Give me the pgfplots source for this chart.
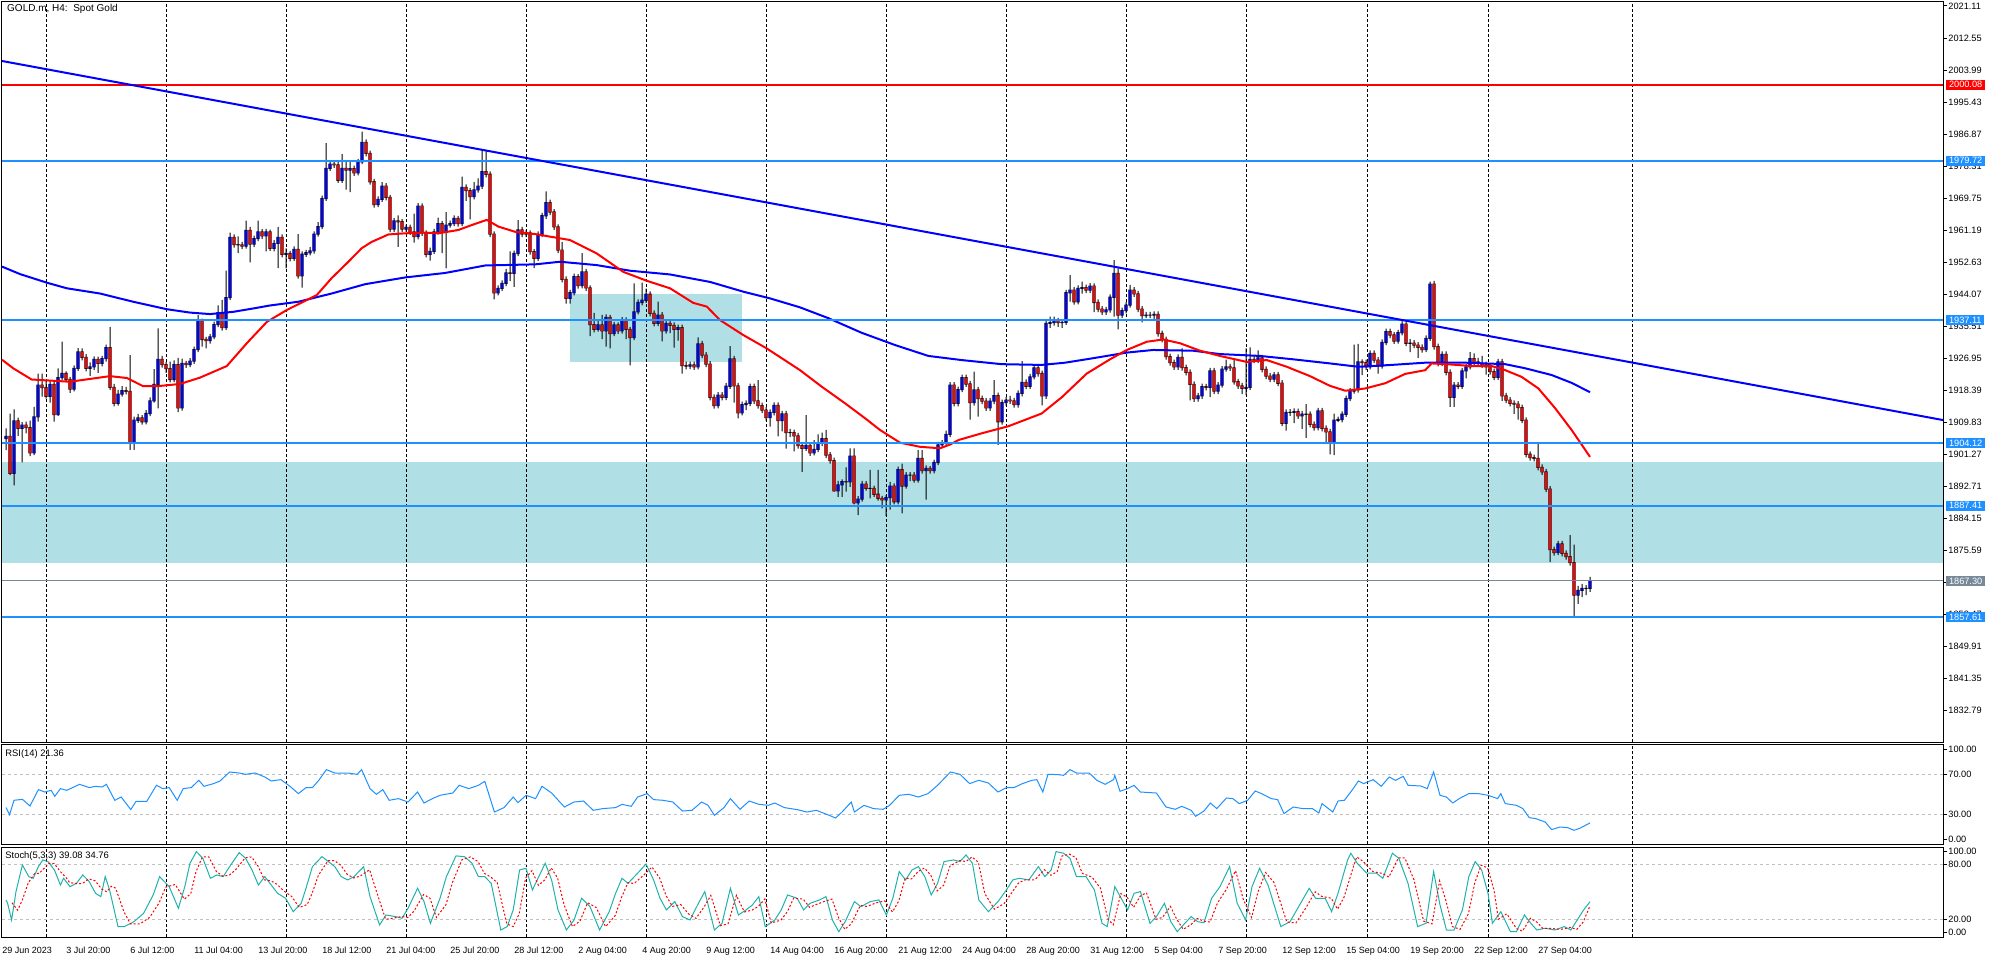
\documentclass[border=0pt]{standalone}
\usepackage{fontspec}
\setmainfont{Liberation Sans}
\usepackage{pgfplots}
\usepackage{pgfplotstable}
\pgfplotsset{compat=1.18}
\definecolor{dodger}{HTML}{1E90FF}
\definecolor{powder}{HTML}{B0E0E6}
\definecolor{slate}{HTML}{778899}
\definecolor{seagreen}{HTML}{20B2AA}
\definecolor{mtblue}{HTML}{0000FF}
\definecolor{mtred}{HTML}{FF0000}
\definecolor{silv}{HTML}{C0C0C0}
\newcommand{\mtf}{\fontsize{4.6pt}{5.5pt}\selectfont}
\newcommand{\mtl}{\fontsize{4.7pt}{5.5pt}\selectfont}
\newcommand{\mtx}{\fontsize{4.5pt}{5.5pt}\selectfont}
\tikzset{vgrid/.style={black, line width=0.5pt, dash pattern=on 1.5pt off 1pt}}

\pgfplotstableread{
o h l c
1905.4 1908.1 1902.3 1906.0
1906.0 1912.1 1895.6 1896.1
1896.1 1913.2 1892.9 1910.1
1910.1 1911.0 1906.1 1908.1
1908.1 1909.8 1899.0 1909.0
1909.0 1909.9 1906.8 1908.3
1908.3 1910.2 1900.7 1901.6
1901.6 1913.9 1901.0 1911.2
1911.2 1922.8 1909.9 1919.7
1919.7 1922.8 1916.6 1919.0
1919.0 1921.0 1916.1 1916.7
1916.7 1921.0 1915.0 1919.9
1919.9 1921.0 1909.9 1911.8
1911.8 1924.2 1911.5 1921.7
1921.7 1931.3 1921.0 1922.8
1922.8 1923.4 1920.6 1921.2
1921.2 1921.9 1917.6 1918.6
1918.6 1925.0 1918.0 1924.2
1924.2 1929.6 1923.5 1928.6
1928.6 1929.5 1926.3 1927.1
1927.1 1928.0 1923.4 1924.2
1924.2 1925.8 1922.2 1924.6
1924.6 1927.4 1923.8 1926.6
1926.6 1927.3 1923.0 1925.5
1925.5 1927.5 1924.7 1926.8
1926.8 1930.5 1926.0 1929.7
1929.7 1935.3 1918.4 1919.1
1919.1 1920.0 1914.0 1914.8
1914.8 1918.4 1914.2 1917.3
1917.3 1919.4 1916.6 1918.2
1918.2 1919.2 1917.2 1918.0
1918.0 1927.7 1902.4 1904.3
1904.3 1911.3 1902.4 1910.3
1910.3 1912.0 1909.6 1910.9
1910.9 1911.7 1909.1 1909.9
1909.9 1913.0 1909.2 1912.1
1912.1 1916.4 1911.4 1915.5
1915.5 1924.0 1915.0 1919.9
1919.9 1934.9 1913.5 1926.6
1926.6 1927.5 1924.4 1925.2
1925.2 1925.9 1923.0 1924.1
1924.1 1926.0 1920.4 1921.2
1921.2 1926.3 1920.5 1925.2
1925.2 1927.0 1912.5 1913.6
1913.6 1926.8 1912.9 1925.5
1925.5 1926.2 1924.3 1925.2
1925.2 1926.9 1924.5 1926.1
1926.1 1930.0 1925.4 1929.2
1929.2 1938.4 1928.5 1936.9
1936.9 1937.5 1930.0 1931.9
1931.9 1932.6 1929.5 1931.6
1931.6 1933.4 1930.8 1932.6
1932.6 1936.7 1932.0 1935.9
1935.9 1941.0 1935.2 1939.1
1939.1 1942.5 1934.3 1935.1
1935.1 1950.3 1934.4 1943.1
1943.1 1960.5 1942.5 1959.2
1959.2 1960.0 1956.5 1957.3
1957.3 1959.5 1955.0 1957.2
1957.2 1958.0 1956.1 1956.9
1956.9 1963.7 1956.2 1961.1
1961.1 1962.0 1952.5 1957.4
1957.4 1959.7 1956.6 1958.9
1958.9 1963.7 1958.2 1960.7
1960.7 1961.4 1958.8 1959.6
1959.6 1961.5 1955.5 1960.7
1960.7 1961.3 1955.6 1956.3
1956.3 1958.5 1955.5 1957.6
1957.6 1962.0 1951.0 1959.2
1959.2 1960.0 1953.9 1954.7
1954.7 1956.3 1950.9 1954.9
1954.9 1955.6 1952.8 1953.6
1953.6 1956.8 1952.9 1956.0
1956.0 1960.1 1948.2 1948.9
1948.9 1955.5 1945.8 1954.7
1954.7 1955.9 1954.0 1955.1
1955.1 1956.7 1954.4 1955.6
1955.6 1960.8 1954.9 1960.1
1960.1 1963.3 1959.4 1962.1
1962.1 1970.4 1961.4 1969.6
1969.6 1984.4 1969.0 1977.7
1977.7 1979.6 1977.0 1978.8
1978.8 1979.8 1977.8 1978.6
1978.6 1979.5 1973.8 1974.5
1974.5 1981.5 1973.8 1977.7
1977.7 1979.8 1972.0 1977.2
1977.2 1979.8 1971.3 1977.6
1977.6 1978.4 1975.7 1976.5
1976.5 1980.2 1975.8 1979.4
1979.4 1987.5 1978.8 1984.6
1984.6 1985.4 1980.9 1981.7
1981.7 1982.4 1973.3 1974.1
1974.1 1974.9 1967.2 1968.0
1968.0 1970.2 1967.3 1969.4
1969.4 1974.0 1968.7 1972.9
1972.9 1973.7 1969.1 1969.9
1969.9 1970.6 1960.6 1961.4
1961.4 1964.4 1960.7 1963.6
1963.6 1965.1 1956.7 1963.4
1963.4 1964.1 1960.6 1961.4
1961.4 1962.6 1960.7 1961.9
1961.9 1962.6 1959.9 1960.7
1960.7 1965.6 1957.8 1959.4
1959.4 1968.4 1958.7 1967.6
1967.6 1968.3 1959.6 1960.4
1960.4 1961.1 1953.9 1954.7
1954.7 1956.5 1953.0 1955.5
1955.5 1961.5 1954.8 1960.7
1960.7 1964.5 1960.0 1962.9
1962.9 1963.6 1955.0 1960.7
1960.7 1966.0 1950.9 1962.5
1962.5 1963.7 1961.8 1962.9
1962.9 1965.1 1962.2 1964.3
1964.3 1965.0 1962.1 1962.9
1962.9 1975.5 1962.2 1972.6
1972.6 1973.4 1969.0 1971.7
1971.7 1972.4 1964.0 1970.1
1970.1 1974.0 1969.4 1971.9
1971.9 1975.0 1971.2 1972.9
1972.9 1982.6 1972.2 1976.8
1976.8 1982.6 1975.3 1976.1
1976.1 1976.9 1959.3 1960.1
1960.1 1960.8 1942.6 1944.4
1944.4 1946.4 1943.7 1945.6
1945.6 1947.7 1944.9 1946.9
1946.9 1950.8 1946.2 1949.7
1949.7 1955.5 1947.5 1949.6
1949.6 1955.7 1946.0 1954.9
1954.9 1963.8 1954.2 1961.2
1961.2 1962.0 1959.3 1960.1
1960.1 1961.2 1959.3 1960.4
1960.4 1961.1 1954.6 1955.4
1955.4 1956.1 1951.0 1953.6
1953.6 1960.8 1952.9 1960.0
1960.0 1965.8 1959.3 1965.0
1965.0 1971.5 1964.2 1968.5
1968.5 1969.3 1965.2 1966.0
1966.0 1966.8 1961.2 1962.0
1962.0 1962.7 1955.0 1955.8
1955.8 1958.0 1947.2 1948.0
1948.0 1948.8 1941.5 1942.9
1942.9 1945.2 1941.5 1944.4
1944.4 1949.5 1943.7 1948.7
1948.7 1949.4 1945.5 1946.3
1946.3 1955.0 1945.6 1950.0
1950.0 1950.8 1944.9 1945.7
1945.7 1946.4 1932.8 1935.9
1935.9 1939.0 1933.8 1934.6
1934.6 1937.3 1934.0 1935.8
1935.8 1938.5 1932.0 1934.2
1934.2 1938.6 1930.0 1937.8
1937.8 1938.5 1929.5 1933.5
1933.5 1936.6 1932.8 1935.8
1935.8 1936.5 1933.4 1934.2
1934.2 1937.9 1933.5 1937.1
1937.1 1937.8 1932.0 1934.6
1934.6 1935.3 1925.0 1932.4
1932.4 1946.9 1931.7 1939.3
1939.3 1942.6 1938.6 1941.8
1941.8 1947.1 1941.0 1942.4
1942.4 1945.5 1941.7 1944.0
1944.0 1944.8 1938.1 1938.9
1938.9 1939.7 1935.4 1936.2
1936.2 1942.0 1935.5 1938.4
1938.4 1939.2 1931.4 1934.2
1934.2 1937.0 1933.5 1936.2
1936.2 1937.0 1933.6 1935.7
1935.7 1936.5 1929.7 1934.6
1934.6 1935.9 1931.6 1935.1
1935.1 1935.9 1922.8 1924.9
1924.9 1926.0 1923.9 1924.8
1924.8 1926.0 1924.0 1925.1
1925.1 1926.0 1923.8 1924.6
1924.6 1932.5 1923.9 1930.7
1930.7 1931.5 1926.9 1927.7
1927.7 1928.5 1924.5 1925.3
1925.3 1926.1 1915.6 1916.4
1916.4 1917.2 1913.4 1914.2
1914.2 1917.8 1913.5 1917.0
1917.0 1917.8 1915.6 1916.4
1916.4 1920.3 1915.7 1919.4
1919.4 1930.1 1918.7 1926.7
1926.7 1927.5 1915.0 1919.5
1919.5 1920.3 1910.8 1912.3
1912.3 1915.3 1911.6 1914.5
1914.5 1915.6 1913.0 1914.8
1914.8 1920.1 1914.1 1919.3
1919.3 1920.1 1914.7 1915.5
1915.5 1921.0 1913.4 1914.2
1914.2 1915.0 1912.2 1913.0
1913.0 1913.8 1910.2 1911.0
1911.0 1913.2 1908.6 1912.4
1912.4 1915.1 1911.6 1914.3
1914.3 1915.1 1906.0 1910.2
1910.2 1912.8 1907.3 1912.0
1912.0 1912.8 1902.7 1907.0
1907.0 1908.0 1905.8 1907.0
1907.0 1907.8 1902.0 1906.1
1906.1 1906.9 1902.7 1903.5
1903.5 1904.3 1896.5 1902.8
1902.8 1911.7 1902.1 1903.6
1903.6 1904.4 1900.8 1901.6
1901.6 1905.0 1900.9 1902.5
1902.5 1906.5 1901.8 1904.1
1904.1 1907.0 1903.4 1905.4
1905.4 1907.7 1900.2 1901.0
1901.0 1901.8 1898.7 1899.5
1899.5 1900.3 1891.2 1891.4
1891.4 1894.1 1889.8 1893.0
1893.0 1894.5 1889.8 1893.9
1893.9 1897.7 1891.2 1893.8
1893.8 1902.8 1892.5 1900.7
1900.7 1902.8 1887.8 1888.2
1888.2 1890.0 1884.9 1889.2
1889.2 1894.1 1888.5 1893.2
1893.2 1894.0 1891.5 1892.1
1892.1 1897.0 1889.4 1892.1
1892.1 1892.8 1889.8 1890.5
1890.5 1897.0 1888.8 1889.4
1889.4 1890.1 1886.7 1889.0
1889.0 1890.3 1884.7 1889.6
1889.6 1893.8 1886.4 1892.7
1892.7 1893.4 1887.8 1888.5
1888.5 1897.9 1887.8 1897.1
1897.1 1898.7 1885.4 1892.7
1892.7 1896.4 1892.0 1895.6
1895.6 1896.4 1894.0 1895.6
1895.6 1896.4 1893.6 1894.3
1894.3 1902.3 1893.6 1900.1
1900.1 1902.3 1896.0 1896.8
1896.8 1898.2 1889.1 1897.4
1897.4 1898.0 1896.0 1896.8
1896.8 1899.8 1896.1 1899.0
1899.0 1904.5 1898.3 1903.7
1903.7 1905.0 1903.0 1904.1
1904.1 1907.5 1903.4 1906.5
1906.5 1920.5 1905.8 1919.7
1919.7 1920.5 1914.0 1914.8
1914.8 1919.3 1914.0 1918.5
1918.5 1922.5 1917.8 1921.7
1921.7 1922.5 1919.2 1920.0
1920.0 1920.8 1910.5 1915.0
1915.0 1923.3 1914.2 1918.4
1918.4 1919.2 1911.3 1916.1
1916.1 1916.9 1914.6 1915.4
1915.4 1916.2 1912.8 1913.6
1913.6 1916.2 1912.8 1915.4
1915.4 1921.0 1914.6 1916.9
1916.9 1917.7 1903.7 1909.9
1909.9 1915.8 1909.1 1915.0
1915.0 1916.5 1914.2 1915.7
1915.7 1916.8 1914.7 1915.5
1915.5 1916.3 1913.7 1914.5
1914.5 1918.3 1913.7 1917.5
1917.5 1926.1 1916.7 1920.4
1920.4 1921.2 1918.6 1919.4
1919.4 1922.7 1918.7 1921.9
1921.9 1925.1 1921.2 1924.3
1924.3 1925.1 1922.0 1922.8
1922.8 1923.6 1914.3 1916.8
1916.8 1937.0 1916.0 1936.2
1936.2 1938.0 1935.0 1936.4
1936.4 1938.0 1935.6 1936.9
1936.9 1937.7 1935.3 1936.4
1936.4 1937.3 1935.0 1936.5
1936.5 1945.2 1935.8 1944.4
1944.4 1949.1 1942.0 1945.1
1945.1 1945.9 1941.2 1942.0
1942.0 1946.4 1941.3 1945.6
1945.6 1947.4 1944.2 1945.8
1945.8 1946.6 1944.3 1945.1
1945.1 1947.0 1944.4 1946.2
1946.2 1946.9 1939.2 1941.8
1941.8 1942.6 1939.2 1940.0
1940.0 1940.8 1938.5 1939.3
1939.3 1940.6 1938.5 1939.8
1939.8 1944.0 1939.1 1943.2
1943.2 1953.1 1938.0 1949.6
1949.6 1950.9 1934.6 1938.4
1938.4 1940.4 1937.7 1939.6
1939.6 1941.9 1938.9 1941.1
1941.1 1946.5 1940.4 1945.1
1945.1 1945.9 1943.3 1944.1
1944.1 1944.9 1939.2 1940.0
1940.0 1940.8 1936.5 1938.3
1938.3 1939.3 1937.6 1938.4
1938.4 1939.3 1937.6 1938.4
1938.4 1939.4 1937.2 1938.6
1938.6 1939.4 1932.7 1933.5
1933.5 1934.3 1931.1 1931.9
1931.9 1932.7 1926.5 1927.3
1927.3 1928.1 1924.9 1925.7
1925.7 1926.5 1923.8 1924.6
1924.6 1927.9 1923.8 1927.1
1927.1 1929.5 1923.6 1924.4
1924.4 1925.2 1922.3 1923.1
1923.1 1923.9 1915.6 1919.9
1919.9 1920.7 1915.2 1916.1
1916.1 1917.6 1915.3 1916.8
1916.8 1920.1 1916.0 1919.3
1919.3 1920.0 1918.3 1919.1
1919.1 1924.3 1916.5 1923.5
1923.5 1924.3 1917.3 1918.1
1918.1 1920.5 1917.3 1919.7
1919.7 1924.8 1919.0 1924.0
1924.0 1926.5 1923.3 1924.6
1924.6 1925.4 1923.5 1924.3
1924.3 1926.5 1919.8 1920.6
1920.6 1921.4 1918.7 1919.5
1919.5 1920.3 1917.3 1918.8
1918.8 1929.5 1917.0 1919.1
1919.1 1929.8 1918.4 1926.6
1926.6 1927.6 1925.6 1926.4
1926.4 1929.0 1925.6 1927.0
1927.0 1927.8 1923.1 1923.9
1923.9 1924.7 1921.3 1922.1
1922.1 1922.9 1920.5 1921.3
1921.3 1923.2 1920.5 1922.4
1922.4 1923.2 1919.4 1920.2
1920.2 1921.0 1908.7 1909.5
1909.5 1913.2 1907.5 1912.4
1912.4 1913.3 1911.5 1912.4
1912.4 1913.5 1909.5 1912.6
1912.6 1913.4 1910.7 1911.5
1911.5 1912.8 1908.0 1911.9
1911.9 1914.6 1905.6 1911.9
1911.9 1912.7 1908.4 1909.2
1909.2 1910.0 1907.5 1908.3
1908.3 1913.6 1907.6 1912.8
1912.8 1913.6 1907.3 1908.1
1908.1 1908.9 1904.5 1907.2
1907.2 1908.0 1901.2 1904.5
1904.5 1912.1 1901.0 1910.3
1910.3 1911.3 1909.8 1910.5
1910.5 1912.7 1909.7 1911.9
1911.9 1916.9 1911.2 1916.1
1916.1 1918.9 1915.4 1918.1
1918.1 1930.5 1917.4 1918.4
1918.4 1930.7 1917.7 1925.9
1925.9 1926.6 1922.4 1925.7
1925.7 1926.5 1923.8 1924.6
1924.6 1929.0 1923.9 1928.2
1928.2 1929.0 1925.6 1926.4
1926.4 1927.2 1922.8 1924.8
1924.8 1931.9 1924.1 1931.1
1931.1 1934.8 1930.4 1934.0
1934.0 1934.8 1932.3 1933.1
1933.1 1933.9 1930.7 1931.5
1931.5 1934.5 1930.8 1933.7
1933.7 1937.0 1933.0 1936.0
1936.0 1936.8 1930.1 1930.9
1930.9 1932.0 1928.5 1930.9
1930.9 1931.7 1929.6 1930.4
1930.4 1931.2 1927.0 1929.8
1929.8 1930.6 1928.4 1929.2
1929.2 1933.0 1928.5 1932.2
1932.2 1947.4 1931.5 1946.7
1946.7 1947.6 1929.2 1930.0
1930.0 1930.8 1924.7 1925.5
1925.5 1928.7 1924.8 1927.9
1927.9 1928.7 1922.3 1923.1
1923.1 1923.9 1913.9 1916.4
1916.4 1920.5 1913.9 1919.7
1919.7 1920.5 1918.6 1919.4
1919.4 1924.3 1918.7 1923.5
1923.5 1925.4 1921.5 1924.6
1924.6 1928.5 1923.9 1926.8
1926.8 1928.2 1925.1 1925.9
1925.9 1927.0 1924.7 1925.5
1925.5 1927.5 1924.3 1925.1
1925.1 1926.0 1922.5 1924.6
1924.6 1925.4 1922.5 1923.3
1923.3 1924.1 1921.0 1921.8
1921.8 1926.7 1921.1 1925.9
1925.9 1926.7 1915.5 1916.8
1916.8 1917.6 1914.9 1915.7
1915.7 1916.5 1914.0 1914.8
1914.8 1915.6 1912.0 1914.6
1914.6 1915.4 1910.5 1913.7
1913.7 1914.5 1909.5 1910.3
1910.3 1911.1 1900.4 1901.2
1901.2 1902.0 1899.5 1900.3
1900.3 1901.1 1899.3 1900.1
1900.1 1904.1 1896.9 1897.7
1897.7 1898.5 1895.7 1896.5
1896.5 1897.3 1891.1 1891.9
1891.9 1892.7 1872.4 1875.7
1875.7 1876.5 1874.1 1874.9
1874.9 1878.0 1874.2 1877.2
1877.2 1878.0 1873.9 1874.7
1874.7 1875.5 1873.0 1873.8
1873.8 1879.6 1871.4 1872.2
1872.2 1877.0 1857.9 1863.5
1863.5 1866.0 1861.2 1864.8
1864.8 1866.5 1863.0 1865.3
1865.3 1866.2 1863.5 1865.3
1865.3 1868.4 1864.4 1867.3
}\candles

\pgfplotstableread{
i v
-1 1926.5
1.8 1924.2
6.4 1921.2
16 1920.6
26 1922.1
30.2 1921.6
34.3 1919.4
37.7 1919.4
43.5 1920.0
48.5 1921.7
55.2 1924.8
60.2 1930.9
65.2 1936.6
70.2 1939.8
77.7 1943.8
81.4 1948.3
85.6 1952.7
88.9 1956.3
91.4 1958.0
95.6 1960.0
99.8 1960.3
104.8 1960.5
108.1 1960.3
113.1 1961.2
116.4 1962.5
120.2 1963.9
123.1 1962.1
127.3 1960.7
132.3 1960.1
141 1958.5
147.7 1954.9
154.3 1950.0
160.2 1947.6
166 1945.6
171.8 1941.7
175.2 1940.7
178.5 1937.1
184.3 1933.1
190.2 1929.5
198.5 1923.7
203.9 1919.3
209.8 1914.8
214.8 1910.8
218.5 1907.7
223.5 1904.3
228.5 1903.2
233.5 1902.8
236 1903.8
238.1 1905.0
243.9 1906.8
250.6 1908.7
258.9 1912.1
264 1916.5
270.2 1922.8
276 1926.6
280.2 1929.1
285.2 1931.3
289.3 1931.9
293.5 1930.9
298.5 1928.9
303.5 1927.5
310.2 1925.9
315.2 1926.4
320.2 1924.6
326 1922.1
331 1919.5
334.8 1918.2
339.8 1918.8
344.8 1920.2
349.8 1922.7
354.8 1923.7
356.4 1925.5
361.4 1925.2
366.4 1924.8
371.4 1924.8
374.8 1923.7
378.9 1921.9
383.1 1918.8
387.3 1913.5
391.4 1907.7
396 1900.5
}\mared

\pgfplotstableread{
i v
-1 1951.4
3.5 1949.4
10.2 1947.1
15.2 1945.6
23.5 1944.2
31.8 1942.0
40.2 1940.0
46 1939.1
51 1938.7
56.8 1939.3
61.8 1940.2
66 1941.0
73.1 1942.0
81.4 1944.2
89.8 1946.7
99.8 1948.5
109.8 1949.7
119.8 1951.7
132.3 1952.0
138.5 1952.7
147.7 1951.8
156 1950.3
166 1949.3
176 1947.3
184.3 1944.7
191 1942.9
198.5 1940.5
205.6 1937.6
213.9 1933.7
222.3 1930.4
230.6 1927.5
238.9 1926.4
248.9 1925.3
258.9 1925.1
264.8 1925.7
271.8 1926.9
280.2 1928.4
286.8 1929.1
296.8 1928.9
303.5 1928.0
313.5 1927.5
321.8 1926.6
331 1925.5
338.1 1924.6
346.4 1925.1
354.8 1925.7
364.8 1925.7
374.8 1925.3
379.8 1924.2
386.4 1922.4
391.4 1920.3
396 1917.8
}\mablue

\pgfplotstableread{
i v
0 36.7
0.9 29.7
2.0 44
4.1 45
6.0 38.3
8.1 54.7
9.7 52.3
11.3 54
12.2 48
13.6 55.7
15.2 54
18.4 60
20.8 56.7
22.4 58
24.0 57.3
25.1 60
27.2 44
28.8 47.3
31.2 34.7
32.5 43
35.2 43
37.6 59
39.2 55.7
40.8 56.7
42.8 44
44.3 55.7
46.3 56.7
48.2 64
49.5 58
51.9 60.7
53.5 63.3
55.9 72.3
58.3 71.3
59.9 70
62.3 71.3
64.7 67.3
66.3 63.3
68.7 64.7
71.0 58
73.1 50.7
75.0 56.7
76.6 56.7
78.2 64
80.1 74.7
82.2 71.3
85.4 71.3
87.8 70
88.9 74.7
91.0 55.7
92.6 50
94.2 54.7
95.8 44
98.1 45.7
100.5 42.3
102.9 52.3
104.5 41.3
106.6 45.7
108.5 49
111.7 51.3
113.3 59
115.7 55.7
118.1 59
119.7 63
122.1 32.3
124.5 36.7
126.8 47.3
128.0 41.7
130.0 49
132.4 45.7
134.0 58
136.4 51.3
139.6 37.3
142.0 42.3
144.4 43.3
146.8 34
149.2 35.7
152.4 36.7
154.0 40
156.3 38
157.9 47.3
160.3 50.7
161.9 44.7
164.3 44
166.7 42.3
169.1 33.3
171.5 34
173.9 42.3
175.5 39
177.1 29
179.5 36.7
181.1 45.7
183.5 35
185.8 43.3
188.2 40
190.6 39
192.2 41.3
194.6 36.7
197.8 34.7
200.2 32.3
202.6 34
205.8 29
207.4 26.3
209.0 32.3
211.3 42.3
212.1 32.3
214.5 39
216.9 35.7
219.3 35
220.9 39
223.3 49
225.7 50
228.1 47.3
230.5 50.7
232.9 59
236.1 72.3
238.5 70
240.9 60.7
243.2 64
245.6 61.3
248.0 52.3
250.1 56.7
252.0 56.7
254.1 60.7
256.5 64
257.7 64.7
259.2 52.3
260.5 70
262.9 69.7
264.4 69
266.0 74.7
267.6 71.3
270.8 71.3
272.7 64
274.8 60
276.9 64.7
277.2 69
278.5 53
280.4 55.7
282.0 59
283.6 52.3
287.6 51.3
290.0 37.3
292.3 35
293.9 38
296.3 34
297.4 28
299.5 33.3
301.1 41.3
302.7 35.7
305.1 46.3
306.7 45.7
308.3 40.7
310.4 44
312.3 53.3
313.9 50.7
316.3 45.7
317.9 44.7
319.5 30.7
321.8 37.3
324.2 35.7
326.6 35.7
328.2 31.3
329.0 40.7
330.6 35.7
331.7 32.3
333.0 43.3
334.6 44
336.5 54
338.1 63.3
339.4 60.7
341.8 64.7
343.8 58
345.8 67.3
347.4 64
349.3 68
350.5 59
353.7 58.3
355.3 55.7
356.9 72.3
358.5 49
360.1 47.3
361.7 41.3
363.3 45.7
365.7 50.7
368.1 50.7
370.5 49
372.9 45.7
373.7 50.7
374.8 40.7
377.6 39
379.2 35.7
380.8 26.7
382.4 25.7
384.8 22.3
386.4 14.7
388.5 17.3
390.4 16.7
392.0 14
393.6 16.3
396.0 21.4
}\rsi

\pgfplotstableread{
i v
0 41.1
0.4 37.4
1.4 19.2
2.5 50.2
4.1 79.2
5.7 66.5
6.8 64.7
8.1 77.4
9.2 84.7
10.5 82.9
12.1 73.8
13.6 57.4
14.4 64.7
16 55.6
17.6 59.2
19.2 68.3
20.8 61.1
22.4 48.3
23.7 44.7
24.8 66.5
25.9 52
28 12
29.6 12
32 17.4
34.4 26.5
36.8 46.5
38.4 66.5
40.8 55.6
43.1 32
44.7 55.6
46 81.1
47.6 93.8
49.2 86.5
51.1 64.7
52.7 68.3
54.3 66.5
55.9 77.4
58.3 92.7
59.9 86.5
61.5 73.8
63.1 57.4
64.7 66.5
66.3 57.4
67.9 48.3
69.9 42.9
71.8 28.3
73.8 37.4
75 53.8
76.6 77.4
79 88.3
80.6 82.9
82.2 77.4
83.8 66.5
85.4 62.9
87 66.5
89.4 77.4
91 44.7
93.4 13.8
95 24.7
97.4 22.9
99 21.1
100.5 32
102.9 53.8
104.5 39.3
106.1 15.6
108.5 42.9
110.1 66.5
112.5 89.1
114.6 88.3
116.5 81.1
118.1 66.5
119.7 66.5
121.3 59.2
123.7 8.3
125.3 12
126.8 30.2
128.4 73.8
130 75.6
131.6 52
133.2 66.5
134.8 81.1
136.4 62.9
138 30.2
140.1 8.3
142 19.2
143.9 42.9
146 33.8
148.4 8.3
150.8 28.3
152.4 48.3
154 64.7
155.5 59.2
157.9 70.2
160 80.3
161.9 62.9
163.5 42.9
165.1 30.2
167.2 39.3
169.1 22.9
171 19.2
173.1 37.4
174.7 50.2
177.1 8.3
179 15.6
181.1 53.8
183.1 24.7
185 30.2
186.6 35.6
188.2 44.7
189.8 12
192.2 19.2
193.8 30.2
195.4 46.5
197.8 42.9
199.4 30.2
201 37.4
203.4 41.1
205 44.7
206.6 19.2
208.2 6.5
209.8 17.4
212.1 39.3
213.7 33.8
216.1 39.3
218.2 41.1
220.1 24.7
221.7 42.9
223.3 72
224.9 62.9
226.5 73.8
228.1 77.4
229.7 66.5
231.3 46.5
232.9 59.2
234.5 82.9
236.9 84.7
238.5 82.9
240 90.2
241.6 81.1
243.2 41.1
245.6 28.3
248 39.3
250.1 52
251.7 62.9
253.3 64.7
255.7 62.9
258.1 77.4
259.7 66.5
261.3 73.8
262.5 93.8
264.4 92
266 86.5
267.6 66.5
270 66.5
272.1 52
274 15.6
275.3 12
277.2 55.6
278.8 42.9
280.4 30.2
282 48.3
283.6 50.2
286 15.6
287.6 22.9
289.6 37.4
291.2 17.4
292.8 6.5
294.7 15.6
296.3 22.9
297.9 17.4
299.5 16.3
301.4 42.9
303.5 55.6
305.9 77.4
307.8 37.4
309.9 19.2
311.5 55.6
313.4 75.6
315.5 57.4
318.7 12
321 17.4
323.4 35.6
325.8 53.8
327.4 42.9
329.8 42.9
331.4 28.3
333 48.3
335.4 84.7
336.2 92
337.8 81.1
340.2 70.2
342.6 70.2
344.2 64.7
346.6 92
348.2 86.5
350.5 59.2
352.9 12
355 15.6
356.9 72
358.5 35.6
360.1 8.3
362 8.3
364.1 30.2
365.7 66.5
367.3 82.9
368.9 73.8
370.5 48.3
371.6 15.6
373.7 28.3
376.1 6.5
377.6 6.5
379.6 24.7
381.2 15.6
382.7 8.3
384.8 10.2
387.2 8.3
389.6 12
391.2 8.3
392.8 19.2
394.4 30.2
396 39.1
}\stochmain

\pgfplotstableread{
i v
1.5 38
2.9 30
4 40
5.6 60
7.2 70
8.3 70
9.6 76
10.7 81
12 81
13.6 72
15.1 65
15.9 60
17.5 59
19.1 59
20.7 64
22.3 62
23.9 53
25.2 50
26.3 56
27.4 54
29.5 28
31.1 15
33.5 15
35.9 22
38.3 38
39.9 55
42.3 58
44.6 42
46.2 48
47.5 72
49.1 88
50.7 88
52.6 72
54.2 67
55.8 68
57.4 74
59.8 87
61.4 88
63 78
64.6 63
66.2 62
67.8 58
69.4 51
71.4 45
73.3 33
75.3 36
76.5 48
78.1 68
80.5 84
82.1 84
83.7 79
85.3 69
86.9 65
88.5 67
90.9 74
92.5 52
94.9 20
96.5 21
98.9 23
100.5 22
102 29
104.4 47
106 43
107.6 22
110 36
111.6 60
114 85
116.1 88
118 83
119.6 70
121.2 66
122.8 60
125.2 15
126.8 12
128.3 26
129.9 65
131.5 73
133.1 57
134.7 63
136.3 76
137.9 65
139.5 36
141.6 12
143.5 18
145.4 38
147.5 33
149.9 12
152.3 24
153.9 44
155.5 60
157 59
159.4 68
161.5 77
163.4 65
165 46
166.6 34
168.7 36
170.6 26
172.5 21
174.6 34
176.2 46
178.6 13
180.5 15
182.6 46
184.6 28
186.5 30
188.1 34
189.7 42
191.3 16
193.7 19
195.3 28
196.9 43
199.3 42
200.9 33
202.5 36
204.9 40
206.5 42
208.1 22
209.7 9
211.3 15
213.6 35
215.2 34
217.6 38
219.7 40
221.6 28
223.2 40
224.8 65
226.4 64
228 72
229.6 76
231.2 68
232.8 51
234.4 57
236 78
238.4 84
240 83
241.5 88
243.1 82
244.7 48
247.1 31
249.5 37
251.6 50
253.2 60
254.8 63
257.2 63
259.6 74
261.2 68
262.8 72
264 89
265.9 91
267.5 87
269.1 70
271.5 66
273.6 54
275.5 20
276.8 14
278.7 48
280.3 44
281.9 33
283.5 45
285.1 49
287.5 20
289.1 22
291.1 34
292.7 20
294.3 9
296.2 14
297.8 21
299.4 18
301 17
302.9 38
305 52
307.4 73
309.3 42
311.4 22
313 50
314.9 71
317 60
320.2 17
322.5 16
324.9 32
327.3 50
328.9 45
331.3 43
332.9 31
334.5 44
336.9 78
337.7 88
339.3 83
341.7 72
344.1 70
345.7 66
348.1 87
349.7 87
352 63
354.4 18
356.5 15
358.4 62
360 40
361.6 12
363.5 9
365.6 26
367.2 60
368.8 79
370.4 76
372 52
373.1 20
375.2 26
377.6 10
379.1 7
381.1 21
382.7 17
384.2 10
386.3 10
388.7 9
391.1 11
392.7 9
394.3 17
396 34.8
}\stochsig

\pgfplotsset{
  mainpos/.style={scale only axis, width=970.5pt, height=370pt,
    at={(1pt,-1pt)}, anchor=north west,
    xmin=-1, xmax=484.25, ymin=1824.23, ymax=2022.18},
  candax/.style={mainpos, hide axis, ybar stacked},
  mtaxis/.style={
    scale only axis, width=970.5pt,
    xmin=-1, xmax=484.25, clip=false,
    axis line style={line width=0.5pt, black},
    ytick pos=right, yticklabels={}, tick align=outside,
    major tick length=2pt,
    every tick/.style={black, line width=0.5pt},
  },
}

\begin{document}
\begin{tikzpicture}[x=1pt,y=1pt]
\path[use as bounding box] (0,0) rectangle (998,-479);

% ---------- main panel: background ----------
\begin{axis}[mainpos, hide axis, clip=false]
\fill[powder] (axis cs:-1,1872.2) rectangle (axis cs:484.25,1899.15);
\fill[powder] (axis cs:141,1926.0) rectangle (axis cs:184,1944.1);
\pgfplotsinvokeforeach{10.1,40.1,70,100,130,160,190,220,250.1,280.2,310.2,340.4,370.5,406.5}{
  \draw[vgrid] (axis cs:#1,1824.23) -- (axis cs:#1,2022.18);}
\end{axis}

% ---------- candles: wicks ----------
\begin{axis}[candax, bar width=0.5pt]
\addplot[draw=none, fill=none] table[x expr=\coordindex, y=l] {\candles};
\addplot[draw=none, fill=black] table[x expr=\coordindex, y expr={\thisrow{h}-\thisrow{l}}] {\candles};
\end{axis}
% ---------- candles: body outline ----------
\begin{axis}[candax, bar width=1.7pt]
\addplot[draw=none, fill=none] table[x expr=\coordindex, y expr={min(\thisrow{o},\thisrow{c})-0.14}] {\candles};
\addplot[draw=none, fill=black] table[x expr=\coordindex, y expr={abs(\thisrow{c}-\thisrow{o})+0.28}] {\candles};
\end{axis}
% ---------- candles: bull bodies ----------
\begin{axis}[candax, bar width=1.05pt]
\addplot[draw=none, fill=none] table[x expr=\coordindex, y expr={min(\thisrow{o},\thisrow{c})}] {\candles};
\addplot[draw=none, fill=mtblue] table[x expr=\coordindex, y expr={\thisrow{c}>=\thisrow{o} ? \thisrow{c}-\thisrow{o} : 0}] {\candles};
\end{axis}
% ---------- candles: bear bodies ----------
\begin{axis}[candax, bar width=1.05pt]
\addplot[draw=none, fill=none] table[x expr=\coordindex, y expr={min(\thisrow{o},\thisrow{c})}] {\candles};
\addplot[draw=none, fill=mtred] table[x expr=\coordindex, y expr={\thisrow{c}<\thisrow{o} ? \thisrow{o}-\thisrow{c} : 0}] {\candles};
\end{axis}

% ---------- main panel: overlays, frame, price scale ----------
\begin{axis}[mtaxis, mainpos, xtick=\empty,
  ytick={1832.79,1841.35,1849.91,1858.47,1867.03,1875.59,1884.15,1892.71,1901.27,1909.83,1918.39,1926.95,1935.51,1944.07,1952.63,1961.19,1969.75,1978.31,1986.87,1995.43,2003.99,2012.55,2021.11}]
\addplot[mtblue, line width=1pt, mark=none] table[x=i, y=v] {\mablue};
\addplot[mtred, line width=1pt, mark=none] table[x=i, y=v] {\mared};
\addplot[mtred, line width=1pt, mark=none] coordinates {(-1,2000.08) (484.25,2000.08)};
\addplot[dodger, line width=1pt, mark=none] coordinates {(-1,1979.72) (484.25,1979.72)};
\addplot[dodger, line width=1pt, mark=none] coordinates {(-1,1937.11) (484.25,1937.11)};
\addplot[dodger, line width=1pt, mark=none] coordinates {(-1,1904.12) (484.25,1904.12)};
\addplot[dodger, line width=1pt, mark=none] coordinates {(-1,1887.41) (484.25,1887.41)};
\addplot[dodger, line width=1pt, mark=none] coordinates {(-1,1857.61) (484.25,1857.61)};
\addplot[slate, line width=0.5pt, mark=none] coordinates {(-1,1867.30) (484.25,1867.30)};
\addplot[mtblue, line width=1pt, mark=none] coordinates {(-1,2006.40) (484.25,1910.35)};
\pgfplotsinvokeforeach{1832.79,1841.35,1849.91,1858.47,1867.03,1875.59,1884.15,1892.71,1901.27,1909.83,1918.39,1926.95,1935.51,1944.07,1952.63,1961.19,1969.75,1978.31,1986.87,1995.43,2003.99,2012.55,2021.11}{
  \node[anchor=west, font=\mtf, inner sep=0pt, xshift=2.5pt] at (axis cs:484.25,#1) {#1};}
\node[fill=mtred, text=white, anchor=west, font=\mtf, inner xsep=1.3pt, inner ysep=0pt, minimum height=5pt, xshift=1.5pt] at (axis cs:484.25,2000.08) {2000.08};
\node[fill=dodger, text=white, anchor=west, font=\mtf, inner xsep=1.3pt, inner ysep=0pt, minimum height=5pt, xshift=1.5pt] at (axis cs:484.25,1979.72) {1979.72};
\node[fill=dodger, text=white, anchor=west, font=\mtf, inner xsep=1.3pt, inner ysep=0pt, minimum height=5pt, xshift=1.5pt] at (axis cs:484.25,1937.11) {1937.11};
\node[fill=dodger, text=white, anchor=west, font=\mtf, inner xsep=1.3pt, inner ysep=0pt, minimum height=5pt, xshift=1.5pt] at (axis cs:484.25,1904.12) {1904.12};
\node[fill=dodger, text=white, anchor=west, font=\mtf, inner xsep=1.3pt, inner ysep=0pt, minimum height=5pt, xshift=1.5pt] at (axis cs:484.25,1887.41) {1887.41};
\node[fill=slate, text=white, anchor=west, font=\mtf, inner xsep=1.3pt, inner ysep=0pt, minimum height=5pt, xshift=1.5pt] at (axis cs:484.25,1867.30) {1867.30};
\node[fill=dodger, text=white, anchor=west, font=\mtf, inner xsep=1.3pt, inner ysep=0pt, minimum height=5pt, xshift=1.5pt] at (axis cs:484.25,1857.61) {1857.61};
\end{axis}

% ---------------- RSI panel ----------------
\begin{axis}[mtaxis, at={(1pt,-372.15pt)}, anchor=north west, height=50pt,
  ymin=0, ymax=100, xtick=\empty, ytick={5.3,30,70,95.3}]
\pgfplotsinvokeforeach{10.1,40.1,70,100,130,160,190,220,250.1,280.2,310.2,340.4,370.5,406.5}{
  \draw[vgrid] (axis cs:#1,0) -- (axis cs:#1,100);}
\draw[silv, line width=0.5pt, dash pattern=on 1.5pt off 1.5pt] (axis cs:-1,70) -- (axis cs:484.25,70);
\draw[silv, line width=0.5pt, dash pattern=on 1.5pt off 1.5pt] (axis cs:-1,30) -- (axis cs:484.25,30);
\addplot[dodger, line width=0.5pt, mark=none] table[x=i, y=v] {\rsi};
\node[anchor=west, font=\mtf, inner sep=0pt, xshift=2.5pt] at (axis cs:484.25,95.3) {100.00};
\node[anchor=west, font=\mtf, inner sep=0pt, xshift=2.5pt] at (axis cs:484.25,70) {70.00};
\node[anchor=west, font=\mtf, inner sep=0pt, xshift=2.5pt] at (axis cs:484.25,30) {30.00};
\node[anchor=west, font=\mtf, inner sep=0pt, xshift=2.5pt] at (axis cs:484.25,5.3) {0.00};
\end{axis}

% ---------------- Stochastic panel ----------------
\begin{axis}[mtaxis, at={(1pt,-423.5pt)}, anchor=north west, height=45pt,
  ymin=0.65, ymax=98.8, ytick={6.1,20,80,93.7},
  xtick={0,16,32,48,64,80,96,112,128,144,160,176,192,208,224,240,256,272,288,304,320,336,352,368,384},
  xticklabels={29 Jun 2023,3 Jul 20:00,6 Jul 12:00,11 Jul 04:00,13 Jul 20:00,18 Jul 12:00,21 Jul 04:00,25 Jul 20:00,28 Jul 12:00,2 Aug 04:00,4 Aug 20:00,9 Aug 12:00,14 Aug 04:00,16 Aug 20:00,21 Aug 12:00,24 Aug 04:00,28 Aug 20:00,31 Aug 12:00,5 Sep 04:00,7 Sep 20:00,12 Sep 12:00,15 Sep 04:00,19 Sep 20:00,22 Sep 12:00,27 Sep 04:00},
  xtick pos=bottom, xtick style={draw=none},
  xticklabel style={font=\mtx, anchor=north west, inner sep=0pt, xshift=-2pt, yshift=-3pt}]
\pgfplotsinvokeforeach{10.1,40.1,70,100,130,160,190,220,250.1,280.2,310.2,340.4,370.5,406.5}{
  \draw[vgrid] (axis cs:#1,0.65) -- (axis cs:#1,98.8);}
\draw[silv, line width=0.5pt, dash pattern=on 1.5pt off 1.5pt] (axis cs:-1,80) -- (axis cs:484.25,80);
\draw[silv, line width=0.5pt, dash pattern=on 1.5pt off 1.5pt] (axis cs:-1,20) -- (axis cs:484.25,20);
\addplot[seagreen, line width=0.5pt, mark=none] table[x=i, y=v] {\stochmain};
\addplot[mtred, line width=0.5pt, mark=none, dash pattern=on 1pt off 1pt] table[x=i, y=v] {\stochsig};
\node[anchor=west, font=\mtf, inner sep=0pt, xshift=2.5pt] at (axis cs:484.25,93.7) {100.00};
\node[anchor=west, font=\mtf, inner sep=0pt, xshift=2.5pt] at (axis cs:484.25,80) {80.00};
\node[anchor=west, font=\mtf, inner sep=0pt, xshift=2.5pt] at (axis cs:484.25,20) {20.00};
\node[anchor=west, font=\mtf, inner sep=0pt, xshift=2.5pt] at (axis cs:484.25,6.1) {0.00};
\end{axis}

\node[anchor=west, font=\fontsize{5pt}{6pt}\selectfont, inner sep=0pt] at (3.4,-4.7) {GOLD.m, H4:\ \ Spot Gold};
\node[anchor=west, font=\mtl, inner sep=0pt] at (2.5,-377) {RSI(14) 21.36};
\node[anchor=west, font=\mtl, inner sep=0pt] at (2.5,-428) {Stoch(5,3,3) 39.08 34.76};
\end{tikzpicture}
\end{document}
